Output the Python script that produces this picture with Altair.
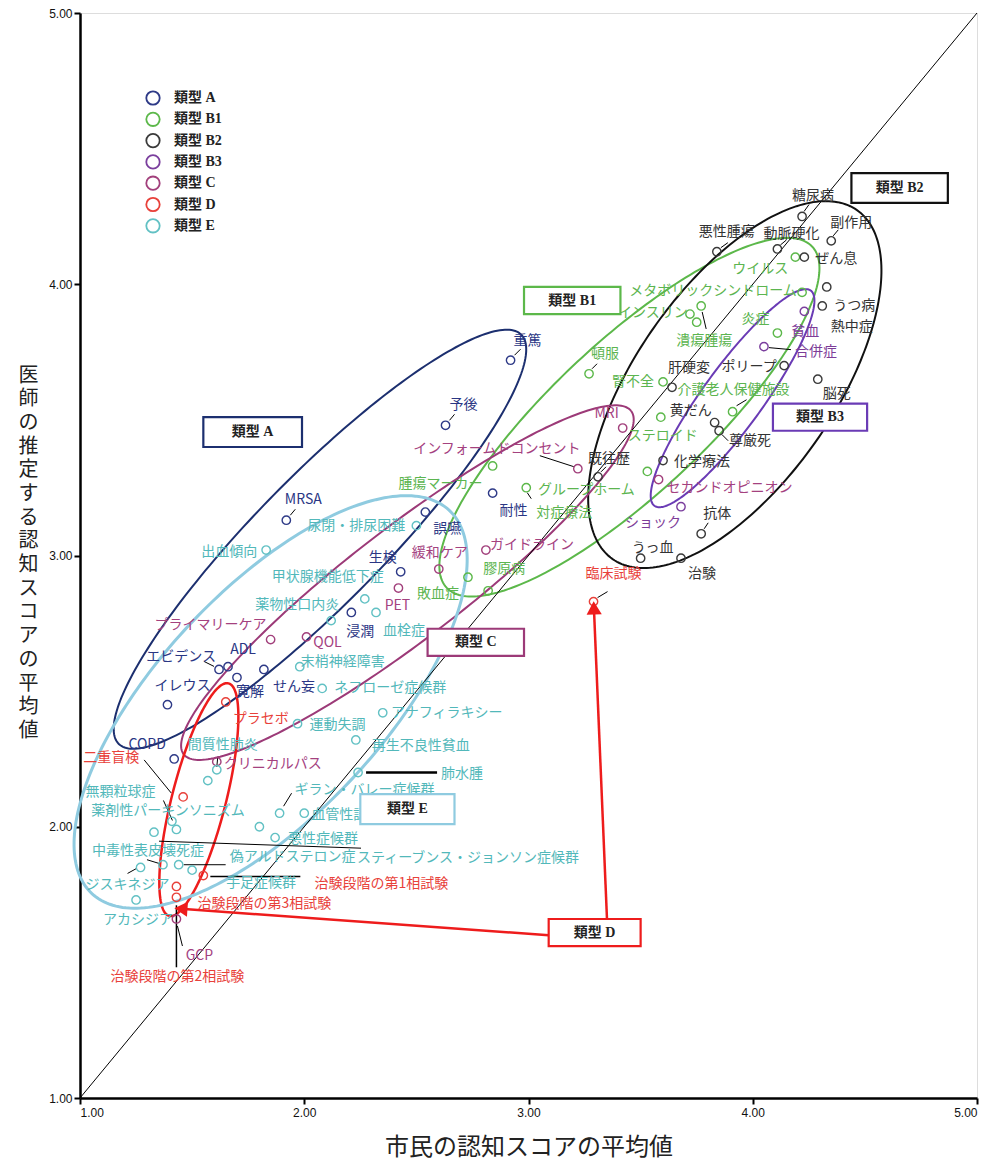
import numpy as np
import pandas as pd
import altair as alt

# ---------------- plot geometry ----------------
W, H = 897, 1085
X_DOMAIN = [1.0, 5.0]
Y_DOMAIN = [1.0, 5.0]
PXX = W / (X_DOMAIN[1] - X_DOMAIN[0])
PXY = H / (Y_DOMAIN[1] - Y_DOMAIN[0])

TYPES = ["類型 A", "類型 B1", "類型 B2", "類型 B3", "類型 C", "類型 D", "類型 E"]
POINT_COLORS = ["#2e3a87", "#5cb84a", "#3a3a3a", "#7b3f9e", "#a2407c", "#e8413a", "#62c1c4"]
TEXT_COLORS = ["#2a3684", "#5cb550", "#333333", "#7d3c98", "#a4417f", "#e8413a", "#52b8ba"]

# ---------------- data ----------------
A_LABELS = ["重篤", "予後", "MRSA", "誤嚥", "生検", "浸潤", "耐性", "エビデンス", "ADL",
            "イレウス", "寛解", "せん妄", "COPD"]
A_X = [2.92, 2.63, 1.92, 2.54, 2.43, 2.21, 2.84, 1.62, 1.66, 1.39, 1.70, 1.82, 1.42]
A_Y = [3.72, 3.48, 3.13, 3.16, 2.94, 2.79, 3.23, 2.58, 2.59, 2.45, 2.55, 2.58, 2.25]

B1_LABELS = ["ウイルス", "メタボリックシンドローム", "インスリン", "潰瘍腫瘍", "炎症", "頓服",
             "腎不全", "介護老人保健施設", "ステロイド", "腫瘍マーカー", "グループホーム",
             "対症療法", "敗血症", "膠原病"]
B1_X = [4.19, 4.22, 3.72, 3.77, 4.11, 3.27, 3.60, 3.91, 3.59, 2.84, 3.53, 2.99, 2.73, 2.82]
B1_Y = [4.10, 3.97, 3.89, 3.92, 3.82, 3.67, 3.64, 3.53, 3.51, 3.33, 3.31, 3.25, 2.92, 2.87]

B2_LABELS = ["糖尿病", "副作用", "悪性腫瘍", "動脈硬化", "ぜん息", "うつ病", "熱中症", "肝硬変",
             "ポリープ", "脳死", "黄だん", "尊厳死", "既往歴", "化学療法", "抗体", "うっ血", "治験"]
B2_X = [4.22, 4.35, 3.84, 4.11, 4.23, 4.31, 4.33, 3.64, 4.14, 4.29, 3.83, 3.85, 3.31, 3.60,
        3.77, 3.50, 3.68]
B2_Y = [4.25, 4.16, 4.12, 4.13, 4.10, 3.92, 3.99, 3.62, 3.70, 3.65, 3.49, 3.46, 3.29, 3.35,
        3.08, 2.99, 2.99]

B3_LABELS = ["貧血", "合併症", "ショック"]
B3_X = [4.23, 4.05, 3.68]
B3_Y = [3.90, 3.77, 3.18]

C_LABELS = ["MRI", "インフォームドコンセント", "セカンドオピニオン", "緩和ケア", "ガイドライン",
            "PET", "QOL", "プライマリーケア", "クリニカルパス", "GCP"]
C_X = [3.42, 3.22, 3.58, 2.60, 2.81, 2.42, 2.01, 1.85, 1.61, 1.43]
C_Y = [3.47, 3.32, 3.28, 2.95, 3.02, 2.88, 2.70, 2.69, 2.24, 1.66]

D_LABELS = ["臨床試験", "プラセボ", "二重盲検", "治験段階の第1相試験", "治験段階の第3相試験",
            "治験段階の第2相試験"]
D_X = [3.29, 1.65, 1.46, 1.55, 1.43, 1.43]
D_Y = [2.83, 2.46, 2.11, 1.82, 1.78, 1.74]

E_LABELS = ["出血傾向", "尿閉・排尿困難", "甲状腺機能低下症", "薬物性口内炎", "血栓症",
            "末梢神経障害", "ネフローゼ症候群", "アナフィラキシー", "運動失調", "再生不良性貧血",
            "肺水腫", "ギラン・バレー症候群", "血管性認知症", "悪性症候群", "無顆粒球症",
            "薬剤性パーキンソニズム", "中毒性表皮壊死症", "スティーブンス・ジョンソン症候群",
            "偽アルドステロン症", "手足症候群", "ジスキネジア", "アカシジア", "間質性肺炎"]
E_X = [1.83, 2.50, 2.27, 2.12, 2.32, 1.98, 2.08, 2.35, 1.97, 2.23, 2.24, 1.89, 2.00, 1.87,
       1.43, 1.41, 1.37, 1.33, 1.44, 1.50, 1.27, 1.25, 1.61]
E_Y = [3.02, 3.11, 2.84, 2.76, 2.79, 2.59, 2.51, 2.42, 2.38, 2.32, 2.20, 2.05, 2.05, 1.96,
       1.99, 2.02, 1.86, 1.98, 1.86, 1.84, 1.85, 1.73, 2.21]

EXTRA_TYPES = ["類型 B1", "類型 E", "類型 E"]
EXTRA_X = [3.75, 1.57, 1.80]
EXTRA_Y = [3.86, 2.17, 2.00]

GROUPS = [("類型 A", A_LABELS, A_X, A_Y), ("類型 B1", B1_LABELS, B1_X, B1_Y),
          ("類型 B2", B2_LABELS, B2_X, B2_Y), ("類型 B3", B3_LABELS, B3_X, B3_Y),
          ("類型 C", C_LABELS, C_X, C_Y), ("類型 D", D_LABELS, D_X, D_Y),
          ("類型 E", E_LABELS, E_X, E_Y)]

# type boxes (data coordinates)
BOX_TYPES = ["類型 A", "類型 B1", "類型 B2", "類型 B3", "類型 C", "類型 D", "類型 E"]
BOX_X1 = [1.55, 2.98, 4.44, 4.09, 2.55, 3.09, 2.25]
BOX_X2 = [1.99, 3.41, 4.87, 4.51, 2.98, 3.50, 2.67]
BOX_Y1 = [3.51, 3.99, 4.41, 3.56, 2.73, 1.66, 2.12]
BOX_Y2 = [3.40, 3.89, 4.30, 3.46, 2.63, 1.56, 2.01]

# group ellipses: centre (data) + semi axes (px) + tilt (deg)
ELL_TYPES = ["類型 A", "類型 B1", "類型 B2", "類型 B3", "類型 C", "類型 D", "類型 E"]
ELL_CX = [2.07, 3.45, 3.92, 3.91, 2.46, 1.53, 1.85]
ELL_CY = [3.06, 3.51, 3.63, 3.58, 2.90, 2.10, 2.46]
ELL_A = [287, 250, 213, 133, 282, 120, 262]
ELL_B = [64, 76, 99, 30, 56, 27, 112]
ELL_ANG = [45.5, 43, 55, 54, 37.5, 75.7, 47]
ELL_COLORS = ["#1c2f6f", "#5cb84a", "#111111", "#6a3bb5", "#9c3a78", "#ee1c1c", "#8fcbe0"]
ELL_WIDTHS = [2, 2, 2, 2, 2, 2.5, 3]

# arrows from the 類型 D box
ARROW_X1 = [3.09, 3.35]
ARROW_Y1 = [1.60, 1.66]
ARROW_X2 = [1.41, 3.29]
ARROW_Y2 = [1.70, 2.84]

# label placement (pixel offsets from the point)
OFFSETS = {
    "重篤": (17, -19), "予後": (18, -20), "MRSA": (17, -20), "誤嚥": (22, 17), "生検": (-18, -14),
    "浸潤": (9, 20), "耐性": (21, 18), "エビデンス": (-38, -12), "ADL": (15, -17),
    "イレウス": (15, -19), "寛解": (13, 14), "せん妄": (30, 18), "COPD": (-27, -14),
    "ウイルス": (-35, 12), "メタボリックシンドローム": (-89, -1), "インスリン": (-37, -1),
    "潰瘍腫瘍": (3, 35), "炎症": (-22, -14), "頓服": (16, -20), "腎不全": (-30, 0),
    "介護老人保健施設": (1, -22), "ステロイド": (2, 19), "腫瘍マーカー": (-52, 18),
    "グループホーム": (-61, 19), "対症療法": (38, 25), "敗血症": (-30, 17), "膠原病": (16, -22),
    "糖尿病": (11, -20), "副作用": (20, -18), "悪性腫瘍": (10, -20), "動脈硬化": (14, -15),
    "ぜん息": (32, 2), "うつ病": (32, 0), "熱中症": (25, 40), "肝硬変": (17, -19),
    "ポリープ": (-35, 1), "脳死": (19, 15), "黄だん": (-24, -12), "尊厳死": (31, 10),
    "既往歴": (11, -18), "化学療法": (39, 1), "抗体": (16, -20), "うっ血": (12, -10), "治験": (21, 16),
    "貧血": (1, 21), "合併症": (52, 5), "ショック": (-28, 16),
    "MRI": (-16, -14), "インフォームドコンセント": (-81, -20), "セカンドオピニオン": (71, 8),
    "緩和ケア": (1, -16), "ガイドライン": (46, -5), "PET": (-1, 18), "QOL": (21, 6),
    "プライマリーケア": (-60, -15), "クリニカルパス": (56, 2), "GCP": (23, 37),
    "臨床試験": (20, -28), "プラセボ": (35, 17), "二重盲検": (-72, -39),
    "治験段階の第1相試験": (178, 8), "治験段階の第3相試験": (88, 18), "治験段階の第2相試験": (1, 80),
    "出血傾向": (-37, 2), "尿閉・排尿困難": (-60, 0), "甲状腺機能低下症": (-37, -22),
    "薬物性口内炎": (-34, -16), "血栓症": (28, 19), "末梢神経障害": (43, -5),
    "ネフローゼ症候群": (68, 0), "アナフィラキシー": (64, 0), "運動失調": (40, 1),
    "再生不良性貧血": (65, 6), "肺水腫": (104, 1), "ギラン・バレー症候群": (85, -23),
    "血管性認知症": (49, 2), "悪性症候群": (48, 1), "無顆粒球症": (-56, -37),
    "薬剤性パーキンソニズム": (-4, -10), "中毒性表皮壊死症": (-15, -14),
    "スティーブンス・ジョンソン症候群": (314, 26), "偽アルドステロン症": (114, -8),
    "手足症候群": (69, 13), "ジスキネジア": (-13, 18), "アカシジア": (2, 20), "間質性肺炎": (6, -25),
}

# leader lines (pixel offsets from the point: start x, start y, end x, end y)
LEADERS = {
    "重篤": (4, -5, 10, -11), "予後": (4, -5, 9, -11), "MRSA": (4, -5, 9, -11),
    "エビデンス": (-15, -8, -5, -3), "潰瘍腫瘍": (1, 6, 5, 23), "介護老人保健施設": (4, -6, 14, -12),
    "対症療法": (1, 5, 5, 11), "頓服": (3, -5, 8, -10), "糖尿病": (2, -5, 7, -12),
    "副作用": (2, -5, 7, -11), "悪性腫瘍": (4, -4, 11, -9), "動脈硬化": (3, -4, 9, -9),
    "尊厳死": (3, 4, 9, 10), "抗体": (3, -5, 7, -11), "既往歴": (3, -5, 8, -10),
    "合併症": (5, 1, 27, 3), "インフォームドコンセント": (-38, -13, -4, -2), "GCP": (1, 7, 6, 27),
    "臨床試験": (4, -4, 14, -10), "二重盲検": (-39, -37, -12, -4),
    "治験段階の第1相試験": (7, 1, 97, 1), "治験段階の第2相試験": (0, 8, 0, 70),
    "肺水腫": (8, 0, 79, 0), "ギラン・バレー症候群": (4, -7, 12, -20),
    "無顆粒球症": (-13, -29, -4, -9), "スティーブンス・ジョンソン症候群": (5, 9, 207, 16),
    "偽アルドステロン症": (5, 0, 47, 0), "中毒性表皮壊死症": (-16, -5, -3, -1),
    "ジスキネジア": (-13, 6, -4, 1), "間質性肺炎": (1, -13, 0, -3),
}
LEADER_WIDTH = {"肺水腫": 2.5, "治験段階の第1相試験": 1.5, "治験段階の第2相試験": 1.5}

# ---------------- tables ----------------
tcol = dict(zip(TYPES, TEXT_COLORS))
rows = []
for t, labs, xs_, ys_ in GROUPS:
    for lab_, x, y in zip(labs, xs_, ys_):
        rows.append(dict(type=t, name=lab_, x=x, y=y))
for t, x, y in zip(EXTRA_TYPES, EXTRA_X, EXTRA_Y):
    rows.append(dict(type=t, name="", x=x, y=y))
pts = pd.DataFrame(rows)

lab = pts[pts.name != ""].copy()
lab["lx"] = [x + OFFSETS[n][0] / PXX for x, n in zip(lab.x, lab.name)]
lab["ly"] = [y - OFFSETS[n][1] / PXY for y, n in zip(lab.y, lab.name)]
lab["tc"] = [tcol[t] for t in lab.type]

lrows = []
for _, r in pts.iterrows():
    if r["name"] in LEADERS:
        sx, sy, ex, ey = LEADERS[r["name"]]
        lrows.append(dict(x=r.x + sx / PXX, y=r.y - sy / PXY, x2=r.x + ex / PXX,
                          y2=r.y - ey / PXY, w=LEADER_WIDTH.get(r["name"], 1.0)))
leaders = pd.DataFrame(lrows)

erows = []
for i, t in enumerate(ELL_TYPES):
    th = np.deg2rad(ELL_ANG[i])
    for k, s in enumerate(np.linspace(0, 2 * np.pi, 241)):
        u, v = ELL_A[i] * np.cos(s), ELL_B[i] * np.sin(s)
        dx = u * np.cos(th) - v * np.sin(th)
        dy = u * np.sin(th) + v * np.cos(th)
        erows.append(dict(e=t, k=k, x=ELL_CX[i] + dx / PXX, y=ELL_CY[i] + dy / PXY,
                          c=ELL_COLORS[i], w=ELL_WIDTHS[i]))
ell = pd.DataFrame(erows)

boxes = pd.DataFrame(dict(t=BOX_TYPES, x=BOX_X1, x2=BOX_X2, y=BOX_Y1, y2=BOX_Y2,
                          c=ELL_COLORS))
boxes["cx"] = (boxes.x + boxes.x2) / 2
boxes["cy"] = (boxes.y + boxes.y2) / 2

arows, hrows = [], []
for x1, y1, x2, y2 in zip(ARROW_X1, ARROW_Y1, ARROW_X2, ARROW_Y2):
    dxp, dyp = (x2 - x1) * PXX, -(y2 - y1) * PXY
    L = np.hypot(dxp, dyp)
    ux, uy = dxp / L, dyp / L
    bx, by = x2 - 9 * ux / PXX, y2 + 9 * uy / PXY
    arows.append(dict(x=x1, y=y1, x2=bx, y2=by))
    ang = (np.degrees(np.arctan2(ux, -uy)) + 360) % 360
    hrows.append(dict(x=bx, y=by, a=float(ang)))
arrows = pd.DataFrame(arows)
heads = pd.DataFrame(hrows)

diag = pd.DataFrame(dict(x=[X_DOMAIN[0]], y=[Y_DOMAIN[0]], x2=[X_DOMAIN[1]], y2=[Y_DOMAIN[1]]))

# ---------------- encodings ----------------
xs = alt.Scale(domain=X_DOMAIN, nice=False, zero=False)
ys = alt.Scale(domain=Y_DOMAIN, nice=False, zero=False)
TICKS = [1, 2, 3, 4, 5]
x_axis = alt.Axis(values=TICKS, format=".2f", grid=False, title="市民の認知スコアの平均値",
                  titleFont="Noto Sans CJK JP", titleFontSize=24, titleFontWeight="normal",
                  titleColor="#222", titleY=37, titleBaseline="top",
                  labelFont="Liberation Sans", labelFontSize=12, labelColor="#111",
                  labelPadding=3, tickSize=6, tickWidth=2, tickColor="black",
                  domainColor="black", domainWidth=2.5)
y_axis = alt.Axis(values=TICKS, format=".2f", grid=False,
                  title=list("医師の推定する認知スコアの平均値"), titleAngle=0,
                  titleFont="Noto Sans CJK JP", titleFontSize=20, titleFontWeight="normal",
                  titleColor="#222", titleX=-52, titleY=352, titleAlign="center",
                  titleBaseline="top", titleLineHeight=23.7,
                  labelFont="Liberation Sans", labelFontSize=12, labelColor="#111",
                  labelPadding=2, tickSize=6, tickWidth=2, tickColor="black",
                  domainColor="black", domainWidth=2.5)


def X(f):
    return alt.X(f, type="quantitative", scale=xs, axis=x_axis)


def Y(f):
    return alt.Y(f, type="quantitative", scale=ys, axis=y_axis)


ell_layer = alt.Chart(ell).mark_line(clip=False).encode(
    x=X("x"), y=Y("y"), detail="e:N", order="k:Q",
    stroke=alt.Stroke("c:N", scale=None), strokeWidth=alt.StrokeWidth("w:Q", scale=None))

diag_layer = alt.Chart(diag).mark_rule(color="black", strokeWidth=1).encode(
    x=X("x"), y=Y("y"), x2="x2", y2="y2")

lead_layer = alt.Chart(leaders).mark_rule(color="black").encode(
    x=X("x"), y=Y("y"), x2="x2", y2="y2", strokeWidth=alt.StrokeWidth("w:Q", scale=None))

pt_layer = alt.Chart(pts).mark_point(shape="circle", filled=False, size=70, strokeWidth=1.4,
                                      opacity=1).encode(
    x=X("x"), y=Y("y"),
    color=alt.Color("type:N", scale=alt.Scale(domain=TYPES, range=POINT_COLORS),
                    legend=alt.Legend(title=None, orient="none", legendX=65, legendY=77,
                                      symbolType="circle", symbolSize=180,
                                      symbolStrokeWidth=1.8, padding=0,
                                      labelFont="Liberation Serif, Noto Sans CJK JP",
                                      labelFontSize=14, labelFontWeight="bold",
                                      labelColor="#222", labelOffset=13, rowPadding=-0.7)))

text_layer = alt.Chart(lab).mark_text(font="Noto Sans CJK JP", fontSize=14, align="center",
                                      baseline="middle").encode(
    x=X("lx"), y=Y("ly"), text="name:N", fill=alt.Fill("tc:N", scale=None))

box_layer = alt.Chart(boxes).mark_rect(fill="white", strokeWidth=2.2).encode(
    x=X("x"), x2="x2", y=Y("y"), y2="y2", stroke=alt.Stroke("c:N", scale=None))

box_text = alt.Chart(boxes).mark_text(font="Liberation Serif, Noto Sans CJK JP", fontSize=14,
                                      fontWeight="bold", color="#222", align="center",
                                      baseline="middle").encode(
    x=X("cx"), y=Y("cy"), text="t:N")

arrow_layer = alt.Chart(arrows).mark_rule(color="#ee1c1c", strokeWidth=2.5).encode(
    x=X("x"), y=Y("y"), x2="x2", y2="y2")

head_layer = alt.Chart(heads).mark_point(shape="triangle-up", filled=True, size=230,
                                         color="#ee1c1c", opacity=1).encode(
    x=X("x"), y=Y("y"), angle=alt.Angle("a:Q", scale=None))

chart = alt.layer(ell_layer, diag_layer, lead_layer, pt_layer, text_layer, box_layer,
                  box_text, arrow_layer, head_layer).properties(
    width=W, height=H, autosize="none",
    padding={"left": 72, "top": 5, "right": 6, "bottom": 66}
).configure_view(stroke="black", strokeWidth=1.2).configure(background="white")

chart.save("out.html", embed_options={"renderer": "svg", "actions": False})
